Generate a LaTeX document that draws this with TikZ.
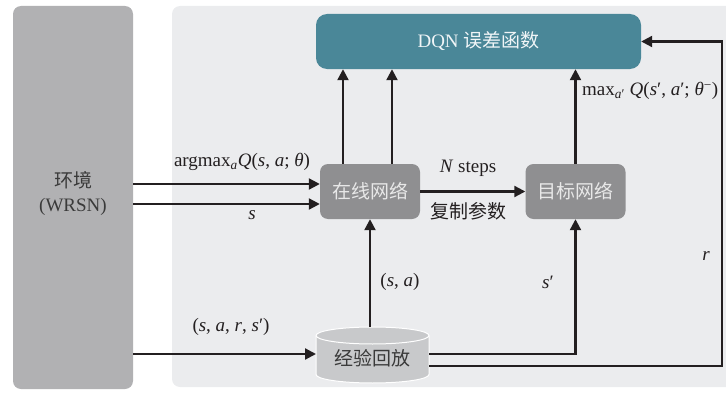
\documentclass[tikz,border=0pt]{standalone}
\usepackage{fontspec}
\setmainfont{Liberation Serif}
\newfontfamily\cjk{Noto Sans CJK SC}
\usetikzlibrary{arrows.meta,calc}
\definecolor{panelbg}{HTML}{EBECEE}
\definecolor{envgray}{HTML}{B1B1B3}
\definecolor{envtext}{HTML}{3A3A3A}
\definecolor{teal}{HTML}{4A8798}
\definecolor{netgray}{HTML}{8F8F91}
\definecolor{nettext}{HTML}{E8E8E8}
\definecolor{cylfill}{HTML}{C8C9CB}
\definecolor{ink}{HTML}{231F20}
\newcommand\fsz{\fontsize{19}{22}\selectfont}
\begin{document}
\begin{tikzpicture}[x=1pt,y=1pt,
  every node/.style={font=\fsz, inner sep=0pt},
  envbox/.style={fill=envgray, rounded corners=8pt, minimum width=120pt, minimum height=383pt},
  netbox/.style={fill=netgray, rounded corners=8pt, minimum width=100pt, minimum height=55pt, text=nettext, font=\fsz\cjk},
  dqnbox/.style={fill=teal, rounded corners=11pt, minimum width=325pt, minimum height=55pt, text=white!92!teal},
  arr/.style={draw=ink, line width=2.2pt, -{Triangle[length=11pt,width=11pt]}},
  lbl/.style={text=ink, font=\fsz},
  cjklbl/.style={text=ink, font=\fsz\cjk}]
\useasboundingbox (0,0) rectangle (726,392);
\clip (0,0) rectangle (726,392);
% background panel
\fill[panelbg, rounded corners=8pt] (172,5) rectangle (745,386);
% environment
\node[envbox] (env) at (73,194.5) {};
\node[text=envtext, align=center, font=\fsz] (envtxt) at (73,199) {{\cjk 环境}\\[2pt](WRSN)};
% boxes
\node[dqnbox] (dqn) at (478.5,350.5) {DQN {\cjk 误差函数}};
\node[netbox] (online) at (370,200.5) {在线网络};
\node[netbox] (target) at (575.5,200.5) {目标网络};
% replay cylinder
\fill[cylfill] (316,56.5) -- (316,17.5) arc[start angle=180,end angle=360,x radius=56.5,y radius=8.5] -- (429,56.5) arc[start angle=0,end angle=180,x radius=56.5,y radius=8.5] -- cycle;
\draw[white, line width=1pt] (316,56.5) -- (316,17.5) arc[start angle=180,end angle=360,x radius=56.5,y radius=8.5] -- (429,56.5) arc[start angle=0,end angle=180,x radius=56.5,y radius=8.5] -- cycle;
\draw[white, line width=1pt] (316,56.5) arc[start angle=180,end angle=360,x radius=56.5,y radius=8.5];
\node[text=envtext, font=\fsz\cjk] (replay) at (372.5,34) {经验回放};
\coordinate (cyltop) at (370,65);
\coordinate (cylin) at (316,38);
\coordinate (c1) at (429,38);
\coordinate (c2) at (429,26);
\coordinate (rc) at (722,26);
% env -> online
\coordinate (a1) at (online.west |- 0,208);
\coordinate (a2) at (online.west |- 0,188);
\draw[arr] (env.east |- a1) -- (a1);
\draw[arr] (env.east |- a2) -- (a2);
% online -> dqn
\coordinate (u1) at ([xshift=-27pt]online.north);
\coordinate (u2) at ([xshift=22pt]online.north);
\draw[arr] (u1) -- (u1 |- dqn.south);
\draw[arr] (u2) -- (u2 |- dqn.south);
% target -> dqn
\draw[arr] (target.north) -- (target.north |- dqn.south);
% online -> target
\draw[arr] (online.east) -- (target.west);
% replay -> online
\draw[arr] (cyltop) -- (online.south);
% env -> replay
\draw[arr] (env.east |- cylin) -- (cylin);
% replay -> target
\draw[arr] (c1) -| (target.south);
% replay -> dqn (r)
\draw[arr] (c2) -- (rc) |- (dqn.east);
% labels
\node[lbl] (l1) at (242,230) {argmax\textsubscript{\textit{a}}\textit{Q}(\textit{s}, \textit{a}; \textit{θ})};
\node[lbl] (l2) at (252,177) {\textit{s}};
\node[lbl] (l3) at (468,224) {\textit{N} steps};
\node[cjklbl] (l4) at (468,181) {复制参数};
\node[lbl, anchor=west] (l5) at (582,301) {max\textsubscript{\textit{a}′} \textit{Q}(\textit{s}′, \textit{a}′; \textit{θ}\textsuperscript{−})};
\node[lbl] (l6) at (400,110) {(\textit{s}, \textit{a})};
\node[lbl] (l7) at (548,110) {\textit{s}′};
\node[lbl] (l8) at (706,136) {\textit{r}};
\node[lbl] (l9) at (231,65) {(\textit{s}, \textit{a}, \textit{r}, \textit{s}′)};
\end{tikzpicture}
\end{document}
